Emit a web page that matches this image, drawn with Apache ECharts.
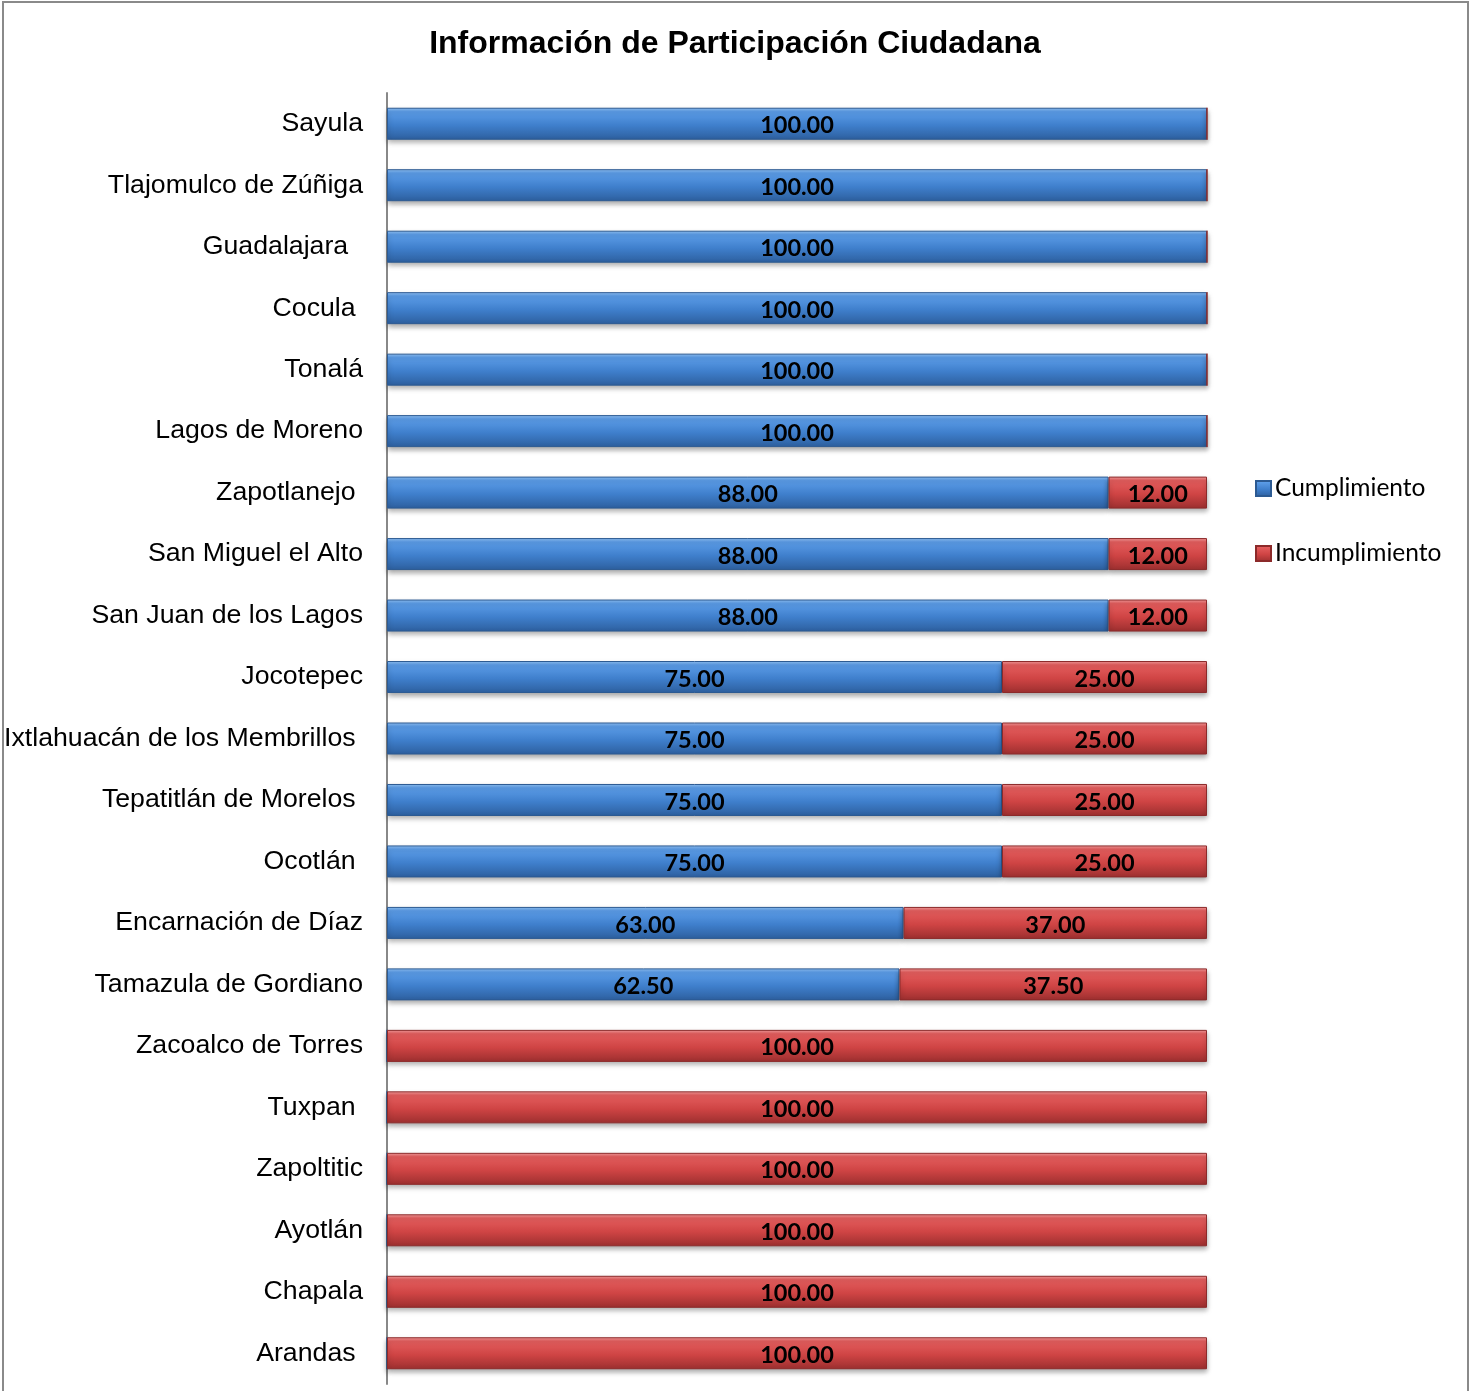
<!DOCTYPE html>
<html><head><meta charset="utf-8">
<script src="https://cdn.jsdelivr.net/npm/echarts@6/dist/echarts.min.js"></script>
<style>html,body{margin:0;padding:0;background:#fff}#c{width:1470px;height:1391px}</style>
</head><body><div id="c"></div>
<script>
const categories = ["Sayula","Tlajomulco de Zúñiga","Guadalajara  ","Cocula ","Tonalá","Lagos de Moreno","Zapotlanejo ","San Miguel el Alto","San Juan de los Lagos","Jocotepec","Ixtlahuacán de los Membrillos ","Tepatitlán de Morelos ","Ocotlán ","Encarnación de Díaz","Tamazula de Gordiano","Zacoalco de Torres","Tuxpan ","Zapoltitic","Ayotlán","Chapala","Arandas "];
const cumplimiento = [100,100,100,100,100,100,88,88,88,75,75,75,75,63,62.5,0,0,0,0,0,0];
const incumplimiento = [0,0,0,0,0,0,12,12,12,25,25,25,25,37,37.5,100,100,100,100,100,100];
const seriesNames = ["Cumplimiento","Incumplimiento"];

function grad(c1,c2,c3,c4){return new echarts.graphic.LinearGradient(0,0,0,1,[{offset:0,color:c1},{offset:0.12,color:c2},{offset:0.55,color:c3},{offset:1,color:c4}]);}
const blue = grad('#93c4f7','#5c9de8','#3f7fcc','#2d5f9e');
const red = grad('#f7a0a0','#e45e5e','#cf4444','#9c2f2f');
const lbl = {show:true,position:'inside',color:'#000',fontFamily:'Lato',fontWeight:'bold',fontSize:23.5,offset:[0,2],
  formatter:p=>p.value===0?'':p.value.toFixed(2)};
const chart = echarts.init(document.getElementById('c'));
chart.setOption({
  animation:false,
  title:{text:'Información de Participación Ciudadana',left:'center',top:23,
    textStyle:{fontFamily:'Liberation Sans',fontWeight:'bold',fontSize:32,color:'#000'}},
  legend:{orient:'vertical',left:1250,top:471,itemGap:40,itemWidth:15,itemHeight:15,
    textStyle:{fontFamily:'Lato',fontSize:24.5,color:'#000',padding:[0,0,0,-1]},
    data:[{name:seriesNames[0],icon:'rect'},{name:seriesNames[1],icon:'rect'}]},
  grid:{left:387,right:263,top:93,height:1291,containLabel:false},
  xAxis:{type:'value',min:0,max:100,show:false},
  yAxis:{type:'category',data:categories,inverse:true,
    axisLine:{show:true,lineStyle:{color:'#888',width:2}},axisTick:{show:false},
    axisLabel:{fontFamily:'Liberation Sans',fontSize:26.7,color:'#000',margin:24,padding:[7,0,0,0]}},
  series:[
    {name:seriesNames[0],type:'bar',stack:'a',data:cumplimiento,barWidth:32,
     itemStyle:{color:blue,borderColor:'#2c5a92',borderWidth:1,shadowColor:'rgba(0,0,0,0.35)',shadowBlur:5,shadowOffsetY:3},label:lbl},
    {name:seriesNames[1],type:'bar',stack:'a',data:incumplimiento,barWidth:32,
     itemStyle:{color:red,borderColor:'#8c2a2a',borderWidth:1,shadowColor:'rgba(0,0,0,0.35)',shadowBlur:5,shadowOffsetY:3},label:lbl}
  ],
  graphic:[{type:'rect',shape:{x:3,y:2,width:1465,height:1400},style:{fill:null,stroke:'#8a8a8a',lineWidth:2},silent:true,z:-1}]
});
</script></body></html>
